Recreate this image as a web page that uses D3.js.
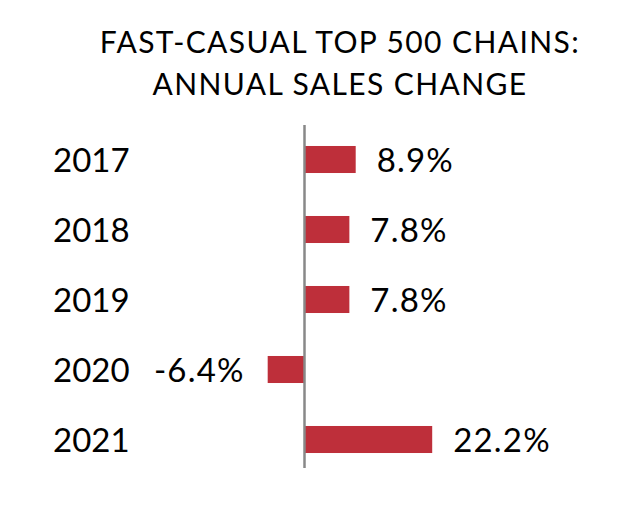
<!DOCTYPE html>
<html><head><meta charset="utf-8">
<script src="https://cdn.jsdelivr.net/npm/d3@7"></script>
<style>body{margin:0;background:#fff}svg{display:block}</style>
</head><body><svg id="c" width="638" height="508"></svg>
<script>
const titleLines = ["FAST-CASUAL TOP 500 CHAINS:", "ANNUAL SALES CHANGE"];
const years = ["2017", "2018", "2019", "2020", "2021"];
const values = [8.9, 7.8, 7.8, -6.4, 22.2];
const labels = ["8.9%", "7.8%", "7.8%", "-6.4%", "22.2%"];

const svg = d3.select("#c");
const font = "Lato, 'Noto Sans', sans-serif";

const x = d3.scaleLinear().domain([0, 22.2]).range([304.5, 432.2]);
const y = d3.scaleBand().domain(years).range([124.5, 474.5]).paddingInner(0.614).paddingOuter(0.307);

svg.append("g").selectAll("text").data(titleLines).join("text")
  .attr("x", 340).attr("y", (d, i) => 53 + i * 42)
  .attr("text-anchor", "middle")
  .attr("font-family", font).attr("font-size", 30).attr("letter-spacing", 1.4).attr("fill", "#000")
  .text(d => d);

const data = years.map((yr, i) => ({ yr, v: values[i], lab: labels[i] }));

svg.append("g").selectAll("rect").data(data).join("rect")
  .attr("x", d => x(Math.min(0, d.v)))
  .attr("y", d => y(d.yr))
  .attr("width", d => Math.abs(x(d.v) - x(0)))
  .attr("height", y.bandwidth())
  .attr("fill", "#BE2F3A");

svg.append("line")
  .attr("x1", x(0)).attr("x2", x(0))
  .attr("y1", 125).attr("y2", 468)
  .attr("stroke", "#888").attr("stroke-width", 2.5);

svg.append("g").selectAll("text").data(data).join("text")
  .attr("x", 53)
  .attr("y", d => y(d.yr) + y.bandwidth() / 2 + 12)
  .attr("font-family", font).attr("font-size", 33).attr("fill", "#000")
  .text(d => d.yr);

svg.append("g").selectAll("text").data(data).join("text")
  .attr("x", d => d.v >= 0 ? x(d.v) + 21 : x(d.v) - 23)
  .attr("text-anchor", d => d.v >= 0 ? "start" : "end")
  .attr("y", d => y(d.yr) + y.bandwidth() / 2 + 12)
  .attr("font-family", font).attr("font-size", 33).attr("letter-spacing", 1.2).attr("fill", "#000")
  .text(d => d.lab);
</script></body></html>
